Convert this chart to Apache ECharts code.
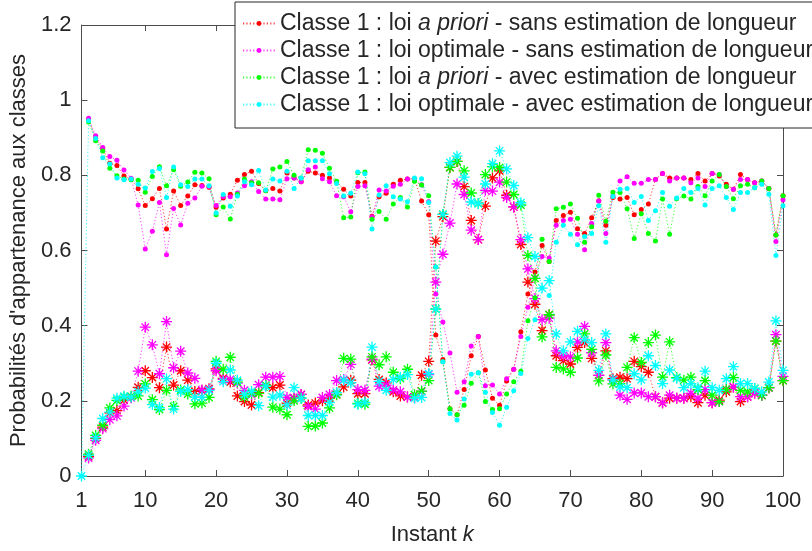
<!DOCTYPE html>
<html>
<head>
<meta charset="utf-8">
<script src="https://cdn.jsdelivr.net/npm/echarts@6/dist/echarts.min.js"></script>
<style>
html,body{margin:0;padding:0;background:#fff;}
#chart{width:812px;height:551px;}
</style>
</head>
<body>
<div id="chart"></div>
<script>
// Instants k = 1..100
const instants = Array.from({length: 100}, (_, i) => i + 1);
const xTickValues = [1, 10, 20, 30, 40, 50, 60, 70, 80, 90, 100];
const xTickLabels = ['1', '10', '20', '30', '40', '50', '60', '70', '80', '90', '100'];
const yTickValues = [0, 0.2, 0.4, 0.6, 0.8, 1, 1.2];
const yTickLabels = ['0', '0.2', '0.4', '0.6', '0.8', '1', '1.2'];

const legendNames = [
  'Classe 1 : loi {i|a priori} - sans estimation de longueur',
  'Classe 1 : loi optimale - sans estimation de longueur',
  'Classe 1 : loi {i|a priori} - avec estimation de longueur',
  'Classe 1 : loi optimale - avec estimation de longueur'
];

// Classe 1 : loi a priori - sans estimation (red)
const c1PrioriSans = [null,0.948,0.900,0.870,0.832,0.826,0.798,0.790,0.764,0.720,
0.738,0.765,0.657,0.758,0.720,0.745,0.775,0.773,0.768,0.715,
0.740,0.750,0.787,0.802,0.811,0.778,0.759,0.765,0.758,0.806,
0.793,0.783,0.811,0.806,0.800,0.793,0.783,0.763,0.745,0.781,
0.781,0.691,0.743,0.752,0.776,0.787,0.790,0.791,0.732,0.695,
0.375,0.310,0.179,0.163,0.230,0.320,0.371,0.282,0.207,0.188,
0.253,0.284,0.384,0.484,0.543,0.613,0.571,0.680,0.693,0.702,
0.658,0.645,0.687,0.732,0.667,0.741,0.737,0.741,0.695,0.709,
0.724,0.789,0.805,0.793,0.793,0.793,0.789,0.805,0.785,0.805,
0.798,0.776,0.763,0.802,0.789,0.780,0.785,0.765,0.641,0.746];
// Classe 1 : loi optimale - sans estimation (magenta)
const c1OptSans = [null,0.952,0.905,0.874,0.850,0.840,0.814,0.792,0.721,0.604,
0.651,0.728,0.589,0.712,0.668,0.726,0.740,0.771,0.770,0.720,
0.743,0.743,0.753,0.772,0.783,0.757,0.737,0.737,0.735,0.791,
0.793,0.783,0.815,0.822,0.791,0.783,0.746,0.743,0.703,0.770,
0.772,0.689,0.761,0.758,0.771,0.776,0.790,0.791,0.775,0.730,
0.484,0.410,0.327,0.223,0.251,0.346,0.371,0.240,0.242,0.218,
0.259,0.284,0.371,0.449,0.528,0.584,0.580,0.667,0.680,0.683,
0.643,0.602,0.672,0.732,0.645,0.745,0.785,0.796,0.779,0.779,
0.789,0.789,0.805,0.785,0.793,0.793,0.780,0.793,0.770,0.805,
0.802,0.770,0.763,0.789,0.789,0.780,0.785,0.765,0.624,0.735];
// Classe 1 : loi a priori - avec estimation (green)
const c1PrioriAvec = [null,0.942,0.892,0.865,0.819,0.799,0.790,0.788,0.787,0.755,
0.797,0.823,0.772,0.815,0.771,0.782,0.808,0.806,0.791,0.695,
0.716,0.684,0.750,0.790,0.780,0.780,0.759,0.817,0.822,0.837,
0.800,0.793,0.868,0.867,0.859,0.819,0.784,0.687,0.689,0.807,
0.809,0.683,0.704,0.683,0.724,0.741,0.716,0.784,0.774,0.746,
0.556,0.304,0.179,0.163,0.188,0.247,0.275,0.198,0.177,0.179,
0.218,0.251,0.279,0.413,0.474,0.630,0.571,0.711,0.715,0.724,
0.686,0.622,0.663,0.747,0.678,0.755,0.754,0.711,0.632,0.698,
0.645,0.625,0.737,0.643,0.738,0.745,0.737,0.770,0.746,0.785,
0.802,0.770,0.738,0.772,0.776,0.767,0.785,0.765,0.641,0.746];
// Classe 1 : loi optimale - avec estimation (cyan)
const c1OptAvec = [0,0.945,0.898,0.847,0.830,0.793,0.788,0.790,0.776,0.766,
0.810,0.818,0.741,0.822,0.775,0.770,0.790,0.790,0.772,0.700,
0.749,0.718,0.745,0.783,0.775,0.813,0.761,0.790,0.785,0.811,
0.765,0.793,0.839,0.839,0.839,0.804,0.778,0.745,0.752,0.809,
0.804,0.657,0.748,0.772,0.743,0.737,0.730,0.793,0.791,0.728,
0.556,0.304,0.166,0.149,0.205,0.271,0.275,0.223,0.169,0.135,
0.183,0.227,0.273,0.366,0.416,0.500,0.480,0.622,0.667,0.643,
0.615,0.637,0.645,0.719,0.622,0.744,0.763,0.765,0.728,0.744,
0.680,0.706,0.754,0.718,0.740,0.765,0.754,0.765,0.721,0.765,
0.772,0.741,0.709,0.754,0.754,0.767,0.776,0.750,0.587,0.719];

// Classe 2 (asterisks)
const c2PrioriSans = [null,0.052,0.100,0.130,0.168,0.174,0.202,0.210,0.236,0.280,
0.262,0.235,0.343,0.242,0.280,0.255,0.225,0.227,0.232,0.285,
0.260,0.250,0.213,0.198,0.189,0.222,0.241,0.235,0.242,0.194,
0.207,0.217,0.189,0.194,0.200,0.207,0.217,0.237,0.255,0.219,
0.219,0.309,0.257,0.248,0.224,0.213,0.210,0.209,0.268,0.305,
0.625,0.690,0.821,0.837,0.770,0.680,0.629,0.718,0.793,0.812,
0.747,0.716,0.616,0.516,0.457,0.387,0.429,0.320,0.307,0.298,
0.342,0.355,0.313,0.268,0.333,0.259,0.263,0.259,0.305,0.291,
0.276,0.211,0.195,0.207,0.207,0.207,0.211,0.195,0.215,0.195,
0.202,0.224,0.237,0.198,0.211,0.220,0.215,0.235,0.359,0.254];
const c2OptSans = [null,0.048,0.095,0.126,0.150,0.160,0.186,0.208,0.279,0.396,
0.349,0.272,0.411,0.288,0.332,0.274,0.260,0.229,0.230,0.280,
0.257,0.257,0.247,0.228,0.217,0.243,0.263,0.263,0.265,0.209,
0.207,0.217,0.185,0.178,0.209,0.217,0.254,0.257,0.297,0.230,
0.228,0.311,0.239,0.242,0.229,0.224,0.210,0.209,0.225,0.270,
0.516,0.590,0.673,0.777,0.749,0.654,0.629,0.760,0.758,0.782,
0.741,0.716,0.629,0.551,0.472,0.416,0.420,0.333,0.320,0.317,
0.357,0.398,0.328,0.268,0.355,0.255,0.215,0.204,0.221,0.221,
0.211,0.211,0.195,0.215,0.207,0.207,0.220,0.207,0.230,0.195,
0.198,0.230,0.237,0.211,0.211,0.220,0.215,0.235,0.376,0.265];
const c2PrioriAvec = [null,0.058,0.108,0.135,0.181,0.201,0.210,0.212,0.213,0.245,
0.203,0.177,0.228,0.185,0.229,0.218,0.192,0.194,0.209,0.305,
0.284,0.316,0.250,0.210,0.220,0.220,0.241,0.183,0.178,0.163,
0.200,0.207,0.132,0.133,0.141,0.181,0.216,0.313,0.311,0.193,
0.191,0.317,0.296,0.317,0.276,0.259,0.284,0.216,0.226,0.254,
0.444,0.696,0.821,0.837,0.812,0.753,0.725,0.802,0.823,0.821,
0.782,0.749,0.721,0.587,0.526,0.370,0.429,0.289,0.285,0.276,
0.314,0.378,0.337,0.253,0.322,0.245,0.246,0.289,0.368,0.302,
0.355,0.375,0.263,0.357,0.262,0.255,0.263,0.230,0.254,0.215,
0.198,0.230,0.262,0.228,0.224,0.233,0.215,0.235,0.359,0.254];
const c2OptAvec = [0,0.055,0.102,0.153,0.170,0.207,0.212,0.210,0.224,0.234,
0.190,0.182,0.259,0.178,0.225,0.230,0.210,0.210,0.228,0.300,
0.251,0.282,0.255,0.217,0.225,0.187,0.239,0.210,0.215,0.189,
0.235,0.207,0.161,0.161,0.161,0.196,0.222,0.255,0.248,0.191,
0.196,0.343,0.252,0.228,0.257,0.263,0.270,0.207,0.209,0.272,
0.444,0.696,0.834,0.851,0.795,0.729,0.725,0.777,0.831,0.865,
0.817,0.773,0.727,0.634,0.584,0.500,0.520,0.378,0.333,0.357,
0.385,0.363,0.355,0.281,0.378,0.256,0.237,0.235,0.272,0.256,
0.320,0.294,0.246,0.282,0.260,0.235,0.246,0.235,0.279,0.235,
0.228,0.259,0.291,0.246,0.246,0.233,0.224,0.250,0.413,0.281];

const colors = ['#ff0000', '#ff00ff', '#00ff00', '#00ffff'];
const class1 = [c1PrioriSans, c1OptSans, c1PrioriAvec, c1OptAvec];
const class2 = [c2PrioriSans, c2OptSans, c2PrioriAvec, c2OptAvec];

const FONT = '"Liberation Sans", Arial, Helvetica, sans-serif';
const TXT = '#262626';
const AX = '#4d4d4d';
const ASTER = 'path://M5,0L5,10M0,5L10,5M1.6,1.6L8.4,8.4M8.4,1.6L1.6,8.4';

function pairs(arr) { return arr.map((v, i) => [instants[i], v]); }

const series = [];
for (let s = 0; s < 4; s++) {
  series.push({
    name: legendNames[s], type: 'line', data: pairs(class1[s]),
    symbol: 'circle', symbolSize: 5, showSymbol: true, connectNulls: false,
    itemStyle: {color: colors[s]},
    lineStyle: {color: colors[s], width: 1, type: [1.2, 2.2], opacity: 0.75},
    emphasis: {disabled: true}, silent: true, z: 2
  });
  series.push({
    name: 'c2_' + s, type: 'line', data: pairs(class2[s]),
    symbol: ASTER, symbolSize: 11, showSymbol: true,
    itemStyle: {color: colors[s], borderColor: colors[s], borderWidth: 1.3},
    lineStyle: {color: colors[s], width: 1, type: [1.2, 2.2], opacity: 0.75},
    emphasis: {disabled: true}, silent: true, z: 2
  });
}

const chart = echarts.init(document.getElementById('chart'), null, {renderer: 'canvas'});
chart.setOption({
  animation: false,
  backgroundColor: '#fff',
  textStyle: {fontFamily: FONT, color: TXT},
  grid: {left: 79, right: 29, top: 25, bottom: 67, containLabel: false},
  legend: {
    data: legendNames,
    orient: 'vertical', left: 235, top: 2,
    padding: [10, 40, 12, 7], itemGap: 4,
    itemWidth: 32, itemHeight: 6,
    backgroundColor: '#fff', borderColor: '#262626', borderWidth: 1,
    borderRadius: 0,
    textStyle: {fontFamily: FONT, fontSize: 23, color: TXT,
      rich: {i: {fontStyle: 'italic', fontFamily: FONT, fontSize: 23, color: TXT}}},
    formatter: n => n,
    selectedMode: false, z: 10
  },
  xAxis: [{
    type: 'value', min: 1, max: 100, position: 'bottom',
    name: 'Instant {i|k}', nameLocation: 'middle', nameGap: 48,
    nameTextStyle: {fontFamily: FONT, fontSize: 22, color: TXT,
      rich: {i: {fontStyle: 'italic', fontFamily: FONT, fontSize: 22, color: TXT}}},
    axisLine: {show: true, onZero: false, lineStyle: {color: AX, width: 1}},
    axisTick: {show: true, inside: true, length: 6, customValues: xTickValues, lineStyle: {color: AX}},
    axisLabel: {customValues: xTickValues, fontSize: 22, color: TXT, fontFamily: FONT, margin: 14,
      formatter: v => xTickLabels[xTickValues.indexOf(v)]},
    splitLine: {show: false}
  }, {
    type: 'value', min: 1, max: 100, position: 'top',
    axisLine: {show: true, onZero: false, lineStyle: {color: AX, width: 1}},
    axisTick: {show: true, inside: true, length: 6, customValues: xTickValues, lineStyle: {color: AX}},
    axisLabel: {show: false}, splitLine: {show: false}
  }],
  yAxis: [{
    type: 'value', min: 0, max: 1.2, interval: 0.2, position: 'left',
    name: "Probabilités d'appartenance aux classes", nameLocation: 'middle', nameGap: 40,
    nameTextStyle: {fontFamily: FONT, fontSize: 22, color: TXT},
    axisLine: {show: true, onZero: false, lineStyle: {color: AX, width: 1}},
    axisTick: {show: true, inside: true, length: 6, lineStyle: {color: AX}},
    axisLabel: {fontSize: 22, color: TXT, fontFamily: FONT, margin: 10,
      formatter: v => yTickLabels[yTickValues.findIndex(t => Math.abs(t - v) < 1e-9)]},
    splitLine: {show: false}
  }, {
    type: 'value', min: 0, max: 1.2, interval: 0.2, position: 'right',
    axisLine: {show: true, onZero: false, lineStyle: {color: AX, width: 1}},
    axisTick: {show: true, inside: true, length: 6, lineStyle: {color: AX}},
    axisLabel: {show: false}, splitLine: {show: false}
  }],
  series: series
});
</script>
</body>
</html>
